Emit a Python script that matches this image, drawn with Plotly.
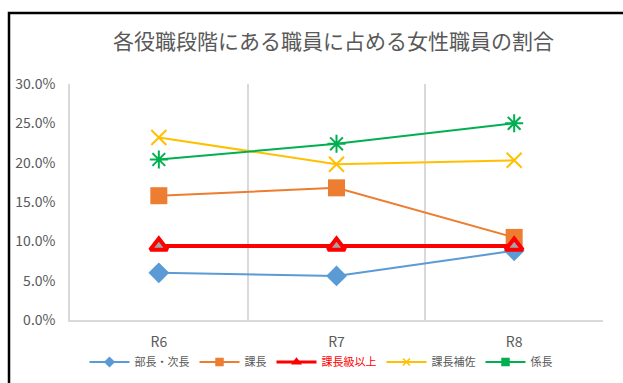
import plotly.graph_objects as go

categories = ["R6", "R7", "R8"]
bucho_jicho = [0.060, 0.056, 0.088]
kacho = [0.158, 0.168, 0.105]
kacho_ijo = [0.094, 0.094, 0.094]
kacho_hosa = [0.232, 0.198, 0.203]
kakaricho = [0.204, 0.224, 0.250]

FONT = "Noto Sans CJK JP, Noto Sans, sans-serif"
GRAY = "#595959"

fig = go.Figure()

series = [
    ("部長・次長", bucho_jicho, "#5B9BD5", "diamond", 16, 2, dict(color="#5B9BD5"), None),
    ("課長", kacho, "#ED7D31", "square", 17, 2, dict(color="#ED7D31"), None),
    ("課長補佐", kacho_hosa, "#FFC000", "x-thin-open", 15, 2, dict(color="#FFC000", width=2), None),
    ("係長", kakaricho, "#00B050", "asterisk-open", 15, 2, dict(color="#00B050", width=2), None),
    ("課長級以上", kacho_ijo, "#FF0000", "triangle-up", 15, 4, dict(color="#FF0000", width=4), "#A5A5A5"),
]
for name, vals, col, sym, size, lw, mline, fill in series:
    fig.add_trace(go.Scatter(
        x=categories, y=vals, mode="lines+markers", showlegend=False,
        line=dict(color=col, width=lw),
        marker=dict(symbol=sym, size=size, color=fill or col, line=mline),
    ))

legend_items = [
    ("部長・次長", "#5B9BD5", "diamond", 2),
    ("課長", "#ED7D31", "square", 2),
    ('<span style="color:#FF0000">課長級以上</span>', "#FF0000", "triangle-up", 3),
    ("課長補佐", "#FFC000", "x-thin-open", 2),
    ("係長", "#00B050", "square", 2),
]
for name, col, sym, lw in legend_items:
    fig.add_trace(go.Scatter(
        x=[None], y=[None], mode="lines+markers", name=name,
        line=dict(color=col, width=lw),
        marker=dict(symbol=sym, size=7, color=col, line=dict(color=col, width=1.5)),
    ))

fig.update_layout(
    width=623, height=383,
    margin=dict(l=70, r=20, t=84, b=63, autoexpand=False),
    paper_bgcolor="white", plot_bgcolor="white",
    font=dict(family=FONT, color=GRAY, size=12),
    title=dict(text="各役職段階にある職員に占める女性職員の割合",
               x=333.5 / 623, xref="container", y=1 - 42 / 383, yref="container",
               xanchor="center", yanchor="middle",
               font=dict(size=21, color=GRAY, family=FONT)),
    legend=dict(orientation="h", x=321 / 623, xref="container", xanchor="center",
                y=1 - 362 / 383, yref="container", yanchor="middle",
                bgcolor="rgba(0,0,0,0)",
                font=dict(size=11, color=GRAY), itemwidth=40, traceorder="normal"),
    xaxis=dict(type="category", tickson="boundaries", showgrid=True, gridcolor="#D9D9D9",
               gridwidth=1.5, showline=True, linecolor="#D9D9D9", linewidth=1.5,
               ticks="", tickfont=dict(size=14, color=GRAY), range=[-0.5, 2.5],
               ticklabelstandoff=8, automargin=False),
    yaxis=dict(range=[0, 0.30], dtick=0.05, tickformat=".1%", showgrid=False,
               zeroline=False, showline=True, linecolor="#D9D9D9", linewidth=1.5,
               ticks="", tickfont=dict(size=14, color=GRAY), ticklabelstandoff=10,
               automargin=False),
    showlegend=True,
    shapes=[dict(type="rect", xref="paper", yref="paper",
                 x0=(9 - 70) / 533, x1=1.2, y0=-0.5, y1=1 + (84 - 13) / 236,
                 line=dict(color="black", width=2.5), fillcolor="rgba(0,0,0,0)", layer="below")],
)

fig.write_html("out.html")
